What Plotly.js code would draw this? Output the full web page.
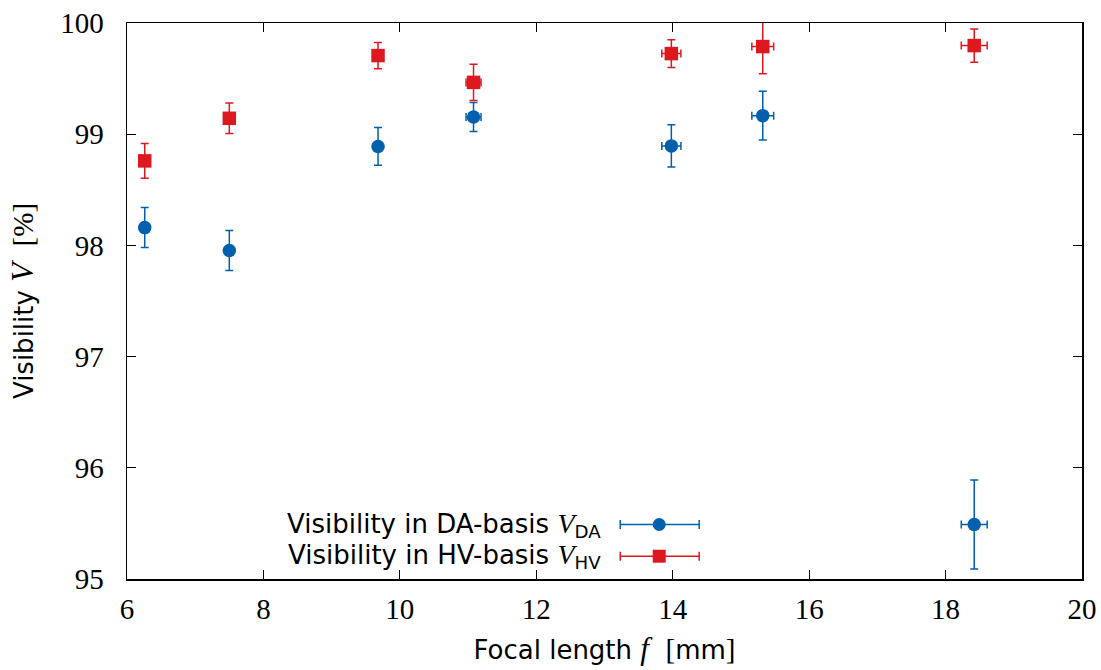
<!DOCTYPE html>
<html><head><meta charset="utf-8">
<script src="https://cdn.plot.ly/plotly-3.0.1.min.js"></script>
<style>html,body{margin:0;padding:0;background:#fff}</style>
</head><body><div id="plot" style="width:1101px;height:670px"></div>
<script>
// Focal lengths [mm] and x uncertainties
const focalDA = [6.26, 7.50, 9.68, 11.08, 13.98, 15.32, 18.42];
const focalErr = [0.0, 0.0, 0.05, 0.11, 0.14, 0.16, 0.19];
// Visibility in DA basis [%]
const visDA = [98.16, 97.955, 98.89, 99.155, 98.895, 99.167, 95.49];
const visDAErr = [0.18, 0.18, 0.17, 0.13, 0.19, 0.22, 0.40];
// Visibility in HV basis [%]
const visHV = [98.76, 99.143, 99.707, 99.466, 99.725, 99.788, 99.797];
const visHVErr = [0.157, 0.137, 0.118, 0.164, 0.125, 0.245, 0.15];

const xTicks = [6, 8, 10, 12, 14, 16, 18, 20];
const yTicks = [95, 96, 97, 98, 99, 100];

const blue = '#0060ad', red = '#dd181f';
const sans = 'DejaVu Sans';
const it = (s, sz) => '<i style="font-family:Liberation Serif;font-size:' + sz + 'px">' + s + '</i>';
const sr = s => '<span style="font-family:Liberation Serif;font-size:29px">' + s + '</span>';

function trace(y, ey, color, symbol, name) {
  return {
    x: focalDA, y: y, type: 'scatter', mode: 'markers', name: name,
    marker: {color: color, symbol: symbol, size: 13.5},
    error_y: {type: 'data', array: ey, visible: true, color: color, thickness: 1.5, width: 4},
    error_x: {type: 'data', array: focalErr, visible: true, color: color, thickness: 1.5, width: 4},
    showlegend: false
  };
}

const data = [
  trace(visDA, visDAErr, blue, 'circle', 'DA'),
  trace(visHV, visHVErr, red, 'square', 'HV')
];

const axisCommon = {
  showgrid: false, zeroline: false, showline: true, linecolor: '#000', linewidth: 1.5,
  mirror: 'ticks', ticks: 'inside', ticklen: 9, tickwidth: 1.2, tickcolor: '#000',
  tickfont: {family: 'Liberation Serif', size: 29, color: '#000'}
};

const legendRows = [
  {text: 'Visibility in DA-basis ' + it('V', 28) + '<sub>DA</sub>', color: blue, sym: 'circle', y: 0.098},
  {text: 'Visibility in HV-basis ' + it('V', 28) + '<sub>HV</sub>', color: red, sym: 'square', y: 0.041}
];
const shapes = [], annotations = [];
const x0 = (620 - 126.5) / 955.5, x1 = (699 - 126.5) / 955.5, xm = (659 - 126.5) / 955.5;
legendRows.forEach(r => {
  annotations.push({xref: 'paper', yref: 'paper', x: (602 - 126.5) / 955.5, y: r.y, xanchor: 'right', yanchor: 'middle',
    text: r.text, showarrow: false, borderpad: 0, font: {family: sans, size: 26, color: '#000'}});
  shapes.push({type: 'line', xref: 'paper', yref: 'paper', x0: x0, x1: x1, y0: r.y, y1: r.y, line: {color: r.color, width: 1.5}});
  const capH = 4.5 / 557;
  [x0, x1].forEach(xx => shapes.push({type: 'line', xref: 'paper', yref: 'paper', x0: xx, x1: xx, y0: r.y - capH, y1: r.y + capH, line: {color: r.color, width: 1.5}}));
  const hw = 6.5 / 955.5, hh = 6.5 / 557;
  shapes.push({type: r.sym === 'circle' ? 'circle' : 'rect', xref: 'paper', yref: 'paper',
    x0: xm - hw, x1: xm + hw, y0: r.y - hh, y1: r.y + hh, fillcolor: r.color, line: {width: 0}});
});

const layout = {
  width: 1101, height: 670,
  margin: {l: 126.5, r: 19, t: 22.5, b: 90.5},
  paper_bgcolor: '#fff', plot_bgcolor: '#fff',
  xaxis: Object.assign({}, axisCommon, {
    range: [6, 20], tickvals: xTicks, ticktext: xTicks.map(String), ticklabelstandoff: 4,
    title: {text: 'Focal length ' + it('f', 31) + '  ' + sr('[') + 'mm' + sr(']'),
      font: {family: sans, size: 26, color: '#000'}, standoff: 16}
  }),
  yaxis: Object.assign({}, axisCommon, {
    range: [95, 100], tickvals: yTicks, ticktext: yTicks.map(String), ticklabelstandoff: 16,
    title: {text: 'Visibility ' + it('V', 31) + '  ' + sr('[%]'),
      font: {family: sans, size: 26, color: '#000'}, standoff: 19}
  }),
  shapes: shapes, annotations: annotations
};

Plotly.newPlot('plot', data, layout, {displayModeBar: false, staticPlot: true});
</script></body></html>
